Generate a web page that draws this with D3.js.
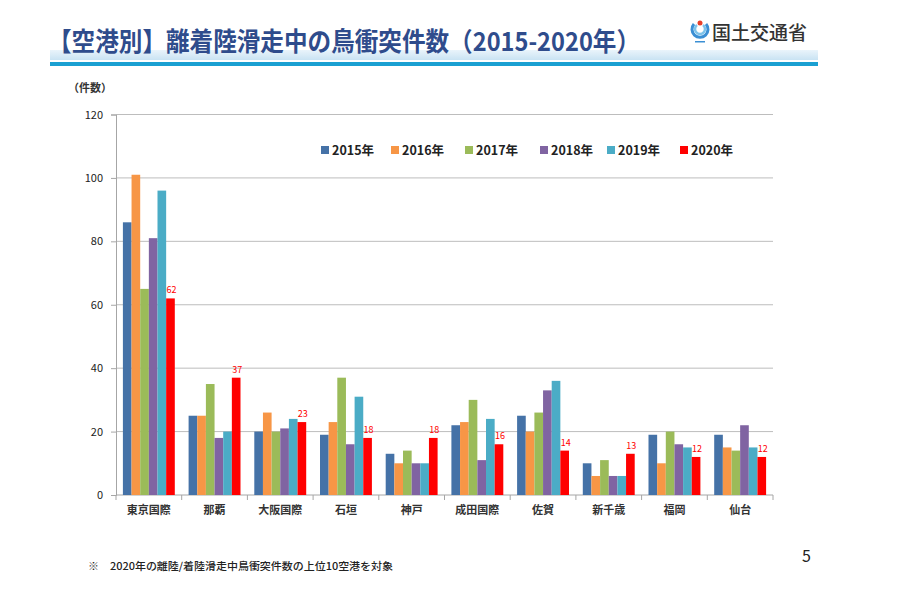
<!DOCTYPE html>
<html><head><meta charset="utf-8">
<script src="https://cdn.jsdelivr.net/npm/d3@7"></script>
<style>body{margin:0;background:#fff}svg{display:block}</style>
</head><body><svg id="c" width="900" height="600"></svg>
<script>
const airports = ["東京国際","那覇","大阪国際","石垣","神戸","成田国際","佐賀","新千歳","福岡","仙台"];
const years = ["2015年","2016年","2017年","2018年","2019年","2020年"];
const v2015 = [86,25,20,19,13,22,25,10,19,19];
const v2016 = [101,25,26,23,10,23,20,6,10,15];
const v2017 = [65,35,20,37,14,30,26,11,20,14];
const v2018 = [81,18,21,16,10,11,33,6,16,22];
const v2019 = [96,20,24,31,10,24,36,6,15,15];
const v2020 = [62,37,23,18,18,16,14,13,12,12];
const yTicks = [0,20,40,60,80,100,120];
const colors = ["#4572A7","#F79646","#9BBB59","#8064A2","#4BACC6","#FF0000"];
const series = [v2015,v2016,v2017,v2018,v2019,v2020];

(function(){
const svg = d3.select("#c");
const font = "'Noto Sans CJK JP', 'Noto Sans', sans-serif";

// header
const defs = svg.append("defs");
const g1 = defs.append("linearGradient").attr("id","band").attr("x1","0").attr("y1","0").attr("x2","0").attr("y2","1");
g1.append("stop").attr("offset","0").attr("stop-color","#EAF4FB");
g1.append("stop").attr("offset","1").attr("stop-color","#C9E3F3");
svg.append("rect").attr("x",50).attr("y",50).attr("width",768).attr("height",10).attr("fill","url(#band)");
svg.append("rect").attr("x",50).attr("y",62).attr("width",768).attr("height",4).attr("fill","#1AA0D2");
svg.append("text").attr("x",48).attr("y",51).attr("font-family",font).attr("font-weight","bold")
  .attr("font-size",26).attr("fill","#2F4C8C").attr("textLength",592).attr("lengthAdjust","spacingAndGlyphs")
  .text("【空港別】離着陸滑走中の鳥衝突件数（2015-2020年）");
// logo
const lg = svg.append("g").attr("transform","translate(700,30)");
lg.append("path").attr("d","M-6,-6 A8,8 0 1,0 6,-6").attr("fill","none").attr("stroke","#3B8FD4").attr("stroke-width",3);
lg.append("path").attr("d","M-3,-5 A5,5 0 1,0 3,-5").attr("fill","none").attr("stroke","#7EC3EA").attr("stroke-width",2.5);
lg.append("circle").attr("cx",0).attr("cy",-7).attr("r",2.5).attr("fill","#E8402A");
lg.append("rect").attr("x",-5).attr("y",11).attr("width",10).attr("height",1.5).attr("fill","#3B8FD4");
svg.append("text").attr("x",712).attr("y",40).attr("font-family",font).attr("font-size",19).attr("font-weight",500).attr("fill","#333")
  .text("国土交通省");

// chart
const pl = 116, pr = 773, pt = 114.5, pb = 495;
const x0 = d3.scaleBand().domain(airports).range([pl,pr]).paddingInner(0.21).paddingOuter(0.105);
const x1 = d3.scaleBand().domain(years).range([0,x0.bandwidth()]);
const y = d3.scaleLinear().domain([0,120]).range([pb,pt]);

const grid = svg.append("g");
grid.selectAll("line").data(yTicks.filter(d=>d>0)).join("line")
  .attr("x1",pl).attr("x2",pr).attr("y1",d=>y(d)).attr("y2",d=>y(d))
  .attr("stroke","#BDBDBD").attr("stroke-width",1);

const yAxis = svg.append("g").attr("transform",`translate(${pl},0)`)
  .call(d3.axisLeft(y).tickValues(yTicks).tickSize(5).tickPadding(8));
yAxis.select(".domain").attr("stroke","#A6A6A6");
yAxis.selectAll(".tick line").attr("stroke","#A6A6A6");
yAxis.selectAll("text").attr("font-family",font).attr("font-size",11).attr("fill","#222");

const step = (pr-pl)/airports.length;
const xAxis = svg.append("g");
xAxis.append("line").attr("x1",pl).attr("x2",pr).attr("y1",pb).attr("y2",pb).attr("stroke","#A6A6A6");
xAxis.selectAll("line.t").data(d3.range(airports.length+1)).join("line").attr("class","t")
  .attr("x1",i=>pl+i*step).attr("x2",i=>pl+i*step).attr("y1",pb).attr("y2",pb+5).attr("stroke","#A6A6A6");
xAxis.selectAll("text").data(airports).join("text")
  .attr("x",d=>x0(d)+x0.bandwidth()/2).attr("y",514).attr("text-anchor","middle")
  .attr("font-family",font).attr("font-size",11).attr("font-weight","bold").attr("fill","#333").text(d=>d);

const groups = svg.append("g").selectAll("g").data(airports).join("g")
  .attr("transform",d=>`translate(${x0(d)},0)`);
groups.selectAll("rect").data((d,i)=>years.map((yr,j)=>({yr,j,v:series[j][i]}))).join("rect")
  .attr("x",d=>x1(d.yr)).attr("width",x1.bandwidth())
  .attr("y",d=>y(d.v)).attr("height",d=>pb-y(d.v)).attr("fill",d=>colors[d.j]);
groups.append("text").attr("x",x1("2020年")+x1.bandwidth()/2+1)
  .attr("y",(d,i)=>y(v2020[i])-5).attr("text-anchor","middle")
  .attr("font-family",font).attr("font-size",9).attr("fill","#FF0000").text((d,i)=>v2020[i]);

// y label
svg.append("text").attr("x",68).attr("y",92).attr("font-family",font).attr("font-size",11).attr("font-weight","bold")
  .attr("fill","#333").text("（件数）");

// legend
const lgX = [321,391,465,540,607,680];
const leg = svg.append("g").selectAll("g").data(years).join("g")
  .attr("transform",(d,i)=>`translate(${lgX[i]},150)`);
leg.append("rect").attr("x",0).attr("y",-4).attr("width",8).attr("height",8).attr("fill",(d,i)=>colors[i]);
leg.append("text").attr("x",11).attr("y",4.5).attr("font-family",font).attr("font-size",12.5).attr("font-weight","bold")
  .attr("fill","#222").text(d=>d);

// footnote
svg.append("text").attr("x",88).attr("y",570).attr("font-family",font).attr("font-size",10.5).attr("font-weight",500).attr("fill","#222")
  .attr("textLength",305).attr("lengthAdjust","spacingAndGlyphs")
  .text("※　2020年の離陸/着陸滑走中鳥衝突件数の上位10空港を対象");
svg.append("text").attr("x",802).attr("y",562).attr("font-family",font).attr("font-size",16).attr("fill","#222").text("5");
})();
</script></body></html>
